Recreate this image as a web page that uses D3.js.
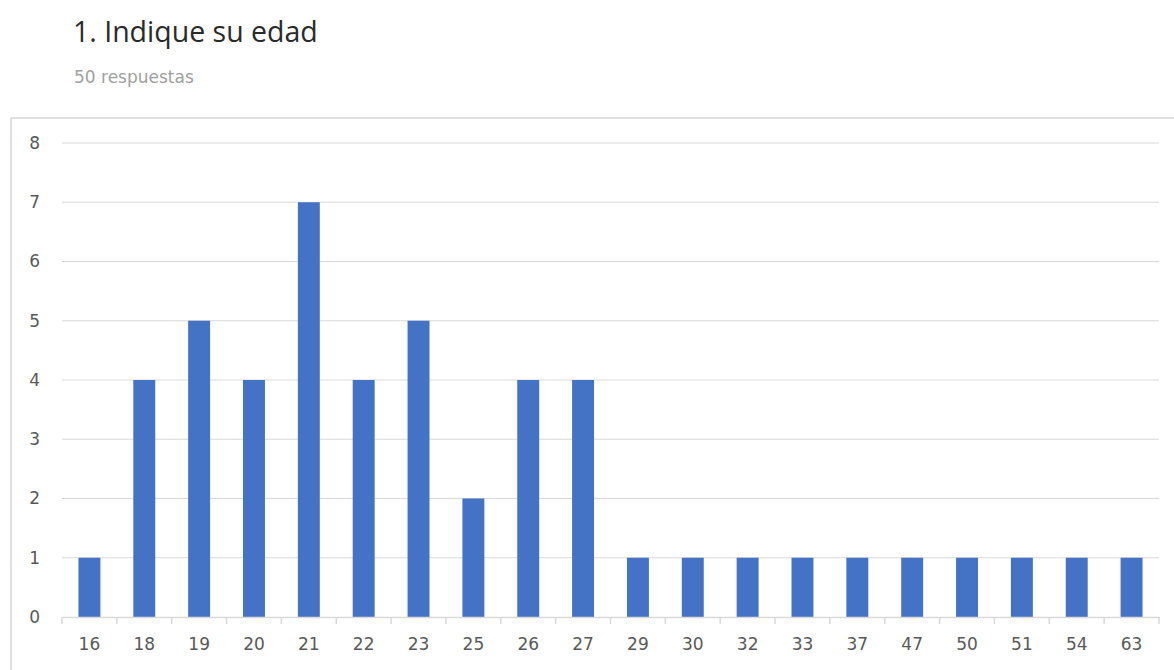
<!DOCTYPE html>
<html>
<head>
<meta charset="utf-8">
<script src="https://cdn.jsdelivr.net/npm/d3@7"></script>
<style>
  html, body { margin: 0; padding: 0; background: #ffffff; }
  svg { display: block; }
</style>
</head>
<body>
<svg id="chart" width="1174" height="670"></svg>
<script>
// Age responses
const ages = ["16","18","19","20","21","22","23","25","26","27","29","30","32","33","37","47","50","51","54","63"];
const counts = [1,4,5,4,7,4,5,2,4,4,1,1,1,1,1,1,1,1,1,1];
const yTicks = [0,1,2,3,4,5,6,7,8];
const titleText = "1. Indique su edad";
const subtitleText = "50 respuestas";

const svg = d3.select("#chart");
const font = "'DejaVu Sans', sans-serif";

// Header
svg.append("text")
  .attr("x", 73).attr("y", 42)
  .attr("font-family", "'Open Sans', sans-serif")
  .attr("font-size", 28.5)
  .attr("fill", "#2a2a2a")
  .text(titleText);

svg.append("text")
  .attr("x", 74).attr("y", 83)
  .attr("font-family", font)
  .attr("font-size", 17)
  .attr("fill", "#a0a0a0")
  .text(subtitleText);

// Chart frame
svg.append("rect")
  .attr("x", 11).attr("y", 118)
  .attr("width", 1180).attr("height", 600)
  .attr("fill", "none")
  .attr("stroke", "#d6d6d6")
  .attr("stroke-width", 1.5);

const plotLeft = 62, plotRight = 1159, plotTop = 143, plotBottom = 617;

const x = d3.scaleBand().domain(ages).range([plotLeft, plotRight]).paddingInner(0.6).paddingOuter(0.3);
const xTicks = d3.scaleBand().domain(ages).range([plotLeft, plotRight]);
const y = d3.scaleLinear().domain([0, 8]).range([plotBottom, plotTop]);

// Gridlines
svg.append("g")
  .selectAll("line")
  .data(yTicks.filter(d => d > 0))
  .join("line")
  .attr("x1", plotLeft).attr("x2", plotRight)
  .attr("y1", d => y(d)).attr("y2", d => y(d))
  .attr("stroke", "#d9d9d9")
  .attr("stroke-width", 1.2);

// Y labels
svg.append("g")
  .selectAll("text")
  .data(yTicks)
  .join("text")
  .attr("x", 40)
  .attr("y", d => y(d))
  .attr("dy", "0.35em")
  .attr("text-anchor", "end")
  .attr("font-family", font)
  .attr("font-size", 17)
  .attr("fill", "#595959")
  .text(d => d);

// Bars
svg.append("g")
  .selectAll("rect")
  .data(ages.map((a, i) => ({ age: a, n: counts[i] })))
  .join("rect")
  .attr("x", d => x(d.age))
  .attr("y", d => y(d.n))
  .attr("width", x.bandwidth())
  .attr("height", d => y(0) - y(d.n))
  .attr("fill", "#4472c4");

// X axis
const xAxis = d3.axisBottom(xTicks).tickSize(0).tickPadding(21);
const gx = svg.append("g")
  .attr("transform", `translate(0,${plotBottom})`)
  .call(xAxis);
gx.select(".domain").attr("stroke", "#d9d9d9").attr("stroke-width", 1.5);
gx.selectAll("text")
  .attr("font-family", font)
  .attr("font-size", 17)
  .attr("fill", "#595959");

// Category separators
const seps = ages.map(a => xTicks(a)).concat([plotRight]);
gx.append("g")
  .selectAll("line")
  .data(seps)
  .join("line")
  .attr("x1", d => d).attr("x2", d => d)
  .attr("y1", 0).attr("y2", 7)
  .attr("stroke", "#d9d9d9")
  .attr("stroke-width", 1.5);
</script>
</body>
</html>
